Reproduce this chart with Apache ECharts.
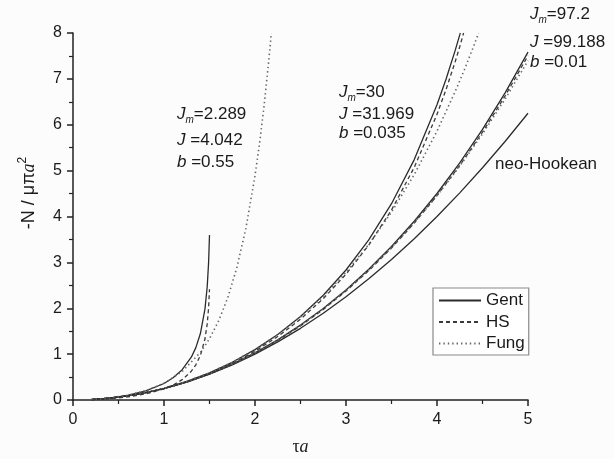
<!DOCTYPE html>
<html><head><meta charset="utf-8">
<script src="https://cdn.jsdelivr.net/npm/echarts@6/dist/echarts.min.js"></script>
<style>html,body{margin:0;padding:0;background:#fcfcfc}#c{width:614px;height:459px}</style>
</head><body><div id="c"></div>
<script>
// x positions (tau*a) and values (-N / mu pi a^2)
const xLong = [0.2,0.4,0.6,0.8,1.0,1.25,1.5,1.75,2.0,2.25,2.5,2.75,3.0,3.25,3.5,3.75,4.0,4.25,4.5,4.75,5.0];
const neoHookean = [0.01,0.04,0.09,0.16,0.25,0.391,0.5625,0.766,1.0,1.266,1.5625,1.891,2.25,2.641,3.0625,3.516,4.0,4.516,5.0625,5.641,6.25];
const gent972 = [0.01,0.04,0.0902,0.1607,0.2517,0.3949,0.5713,0.7821,1.0283,1.3113,1.6329,1.9948,2.3993,2.849,3.3469,3.8963,4.5014,5.1667,5.8977,6.7009,7.5826];
const hs99188 = [0.0099,0.0396,0.0893,0.1591,0.2491,0.3909,0.5655,0.7741,1.0178,1.2979,1.6162,1.9745,2.3748,2.8199,3.3128,3.8566,4.4555,5.114,5.8376,6.6326,7.5053];
const fung001 = [0.01,0.04,0.0902,0.1607,0.2517,0.3947,0.571,0.7814,1.0271,1.3091,1.6292,1.9887,2.3897,2.8341,3.3245,3.8632,4.4534,5.0981,5.8007,6.5654,7.3962];

const xGent30 = [0.2,0.4,0.6,0.8,1.0,1.25,1.5,1.75,2.0,2.25,2.5,2.75,3.0,3.25,3.5,3.75,4.0,4.1,4.2,4.25,4.256];
const gent30 = [0.01,0.0401,0.0907,0.1623,0.2557,0.4047,0.5923,0.822,1.0989,1.4288,1.8201,2.2838,2.8338,3.4897,4.2788,5.2407,6.4352,6.9978,7.6207,7.9581,8.0];
const xHs31969 = [0.2,0.4,0.6,0.8,1.0,1.25,1.5,1.75,2.0,2.25,2.5,2.75,3.0,3.25,3.5,3.75,4.0,4.1,4.2,4.25,4.292];
const hs31969 = [0.0097,0.0388,0.0878,0.1571,0.2474,0.3916,0.5732,0.7955,1.0634,1.3826,1.7613,2.21,2.7422,3.377,4.1406,5.0714,6.2274,6.7718,7.3746,7.7011,8.0];
const xFung0035 = [0.2,0.4,0.6,0.8,1.0,1.25,1.5,1.75,2.0,2.25,2.5,2.75,3.0,3.25,3.5,3.75,4.0,4.2,4.25,4.3,4.35,4.4,4.457];
const fung0035 = [0.01,0.0401,0.0908,0.1624,0.2559,0.4052,0.5929,0.8226,1.0984,1.4255,1.8102,2.2598,2.7833,3.3913,4.0962,4.9132,5.8598,6.7245,6.9572,7.1969,7.4439,7.6983,8.0];

const xShort = [0.2,0.4,0.6,0.8,1.0,1.1,1.2,1.3,1.35,1.4,1.45,1.475,1.49,1.5];
const gent2289 = [0.0101,0.042,0.1007,0.1979,0.3599,0.4838,0.6599,0.9337,1.1419,1.4483,1.9798,2.4742,2.9908,3.597];
const hs4042 = [0.0068,0.0282,0.0676,0.1329,0.2416,0.3248,0.443,0.6268,0.7666,0.9722,1.329,1.6609,2.0077,2.4146];
const xFung055 = [0.2,0.4,0.6,0.8,1.0,1.2,1.4,1.5,1.6,1.7,1.8,1.9,2.0,2.05,2.1,2.15,2.1795];
const fung055 = [0.0101,0.0424,0.1028,0.203,0.3637,0.6207,1.0366,1.336,1.7225,2.2244,2.8805,3.744,4.8884,5.5966,6.4165,7.3672,8.0];

const xTicks = [0,1,2,3,4,5];
const yTicks = [0,1,2,3,4,5,6,7,8];
const legendNames = ['Gent','HS','Fung'];

const pair = (xs, ys) => xs.map((x, i) => [x, ys[i]]);
const SOLID = {color:'#2b2b2b', width:1.3, type:'solid'};
const DASH = {color:'#3a3a3a', width:1.3, type:[4,3]};
const DOT = {color:'#666666', width:1.6, type:[1.4,3]};
function line(name, data, ls){
  return {name, type:'line', data, showSymbol:false, symbol:'none', smooth:false,
    lineStyle:ls, itemStyle:{color:ls.color}, emphasis:{disabled:true}, silent:true, animation:false, clip:true};
}
const FONT = 'Liberation Sans, Arial, sans-serif';
const SERIF = 'Liberation Serif, Times New Roman, serif';
const richAnno = {
  n:{fontSize:17, fontFamily:FONT, color:'#1a1a1a', lineHeight:22, verticalAlign:'middle'},
  i:{fontSize:17, fontFamily:FONT, fontStyle:'italic', color:'#1a1a1a', lineHeight:22, verticalAlign:'middle'},
  s:{fontSize:10, fontFamily:FONT, fontStyle:'italic', color:'#1a1a1a', lineHeight:10, verticalAlign:'bottom'}
};
function anno(x, y, text){
  return {type:'text', left:x, top:y, silent:true, style:{text, rich:richAnno, font:'17px '+FONT, fill:'#1a1a1a'}};
}

const chart = echarts.init(document.getElementById('c'), null, {renderer:'canvas'});
chart.setOption({
  backgroundColor:'#fcfcfc',
  animation:false,
  grid:{left:73, right:86, top:33, bottom:59, containLabel:false, outerBoundsMode:'none'},
  xAxis:{type:'value', min:0, max:5, interval:1,
    name:'{t|τ}{a|a}', nameLocation:'middle', nameGap:38,
    nameTextStyle:{rich:{t:{fontSize:18, fontFamily:SERIF, color:'#1a1a1a'},
                        a:{fontSize:18, fontFamily:SERIF, fontStyle:'italic', color:'#1a1a1a'}}},
    axisLine:{onZero:false, lineStyle:{color:'#222', width:1.5}},
    axisTick:{length:6, lineStyle:{color:'#222', width:1.5}},
    minorTick:{show:true, splitNumber:2, length:4, lineStyle:{color:'#222', width:1.2}},
    splitLine:{show:false},
    axisLabel:{fontSize:16, fontFamily:FONT, color:'#1a1a1a', margin:12}
  },
  yAxis:{type:'value', min:0, max:8, interval:1,
    axisLine:{show:true, onZero:false, lineStyle:{color:'#222', width:1.5}},
    axisTick:{show:true, length:6, lineStyle:{color:'#222', width:1.5}},
    minorTick:{show:true, splitNumber:2, length:4, lineStyle:{color:'#222', width:1.2}},
    splitLine:{show:false},
    axisLabel:{fontSize:16, fontFamily:FONT, color:'#1a1a1a', margin:11}
  },
  legend:{data:legendNames, orient:'vertical', left:433, top:288, width:95,
    backgroundColor:'#ffffff', borderColor:'#8a8a8a', borderWidth:1.2, borderRadius:0,
    padding:[4,4,3,5], itemGap:4.5, itemWidth:42, itemHeight:14,
    itemStyle:{opacity:0},
    textStyle:{fontSize:17, lineHeight:17, fontFamily:FONT, color:'#1a1a1a'},
    selectedMode:false},
  series:[
    line('neo-Hookean', pair(xLong, neoHookean), SOLID),
    line('Gent', pair(xLong, gent972), SOLID),
    line('HS', pair(xLong, hs99188), DASH),
    line('Fung', pair(xLong, fung001), DOT),
    line('Gent', pair(xGent30, gent30), SOLID),
    line('HS', pair(xHs31969, hs31969), DASH),
    line('Fung', pair(xFung0035, fung0035), DOT),
    line('Gent', pair(xShort, gent2289), SOLID),
    line('HS', pair(xShort, hs4042), DASH),
    line('Fung', pair(xFung055, fung055), DOT)
  ],
  graphic:[
    {type:'text', x:29, y:193, rotation:Math.PI/2, silent:true,
      style:{text:'{n|-N / μπ}{a|a}{s|2}', align:'center', verticalAlign:'middle',
        rich:{
          n:{fontSize:18, fontFamily:FONT, fill:'#1a1a1a', lineHeight:24, verticalAlign:'middle'},
          a:{fontSize:18, fontFamily:SERIF, fontStyle:'italic', fill:'#1a1a1a', lineHeight:24, verticalAlign:'middle'},
          s:{fontSize:12, fontFamily:FONT, fill:'#1a1a1a', lineHeight:12, verticalAlign:'top'}}}},
    anno(177, 106, '{i|J}{s|m}{n|=2.289}'),
    anno(177, 132, '{i|J}{n| =4.042}'),
    anno(177, 154, '{i|b}{n| =0.55}'),
    anno(339, 84, '{i|J}{s|m}{n|=30}'),
    anno(339, 106, '{i|J}{n| =31.969}'),
    anno(339, 125, '{i|b}{n| =0.035}'),
    anno(530, 6, '{i|J}{s|m}{n|=97.2}'),
    anno(530, 34, '{i|J}{n| =99.188}'),
    anno(530, 54, '{i|b}{n| =0.01}'),
    anno(495, 156, '{n|neo-Hookean}')
  ]
});
</script></body></html>
